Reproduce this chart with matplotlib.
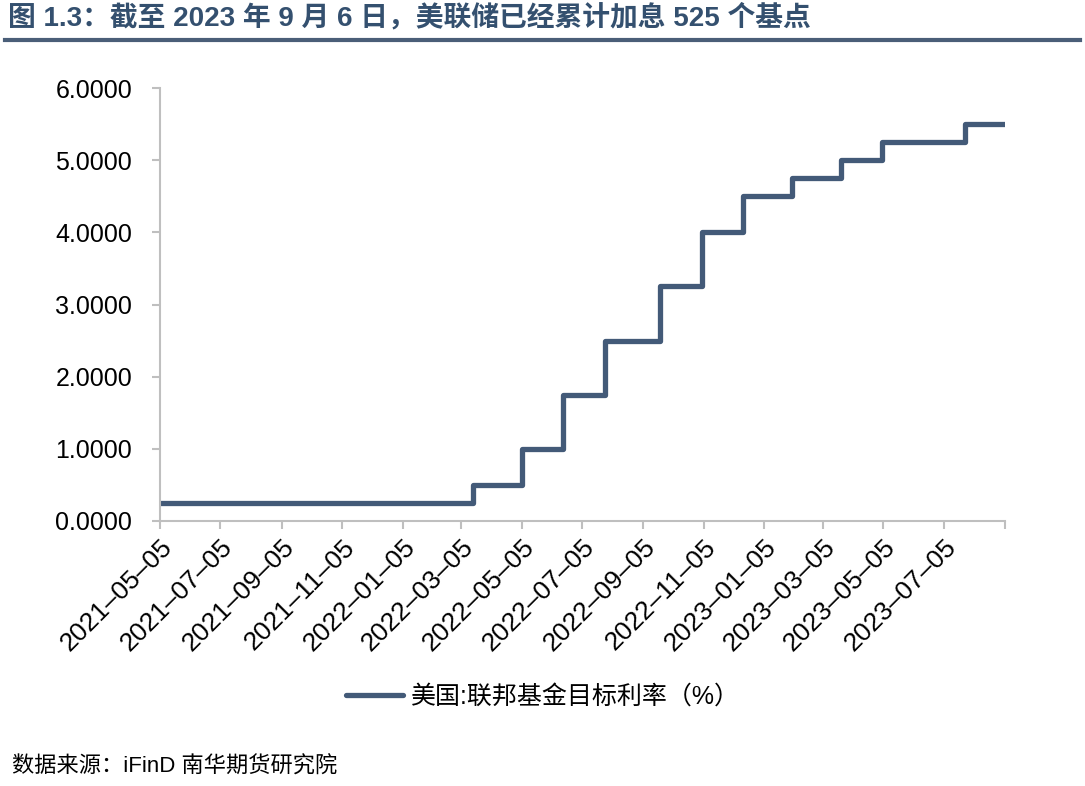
import matplotlib
matplotlib.use("Agg")
import matplotlib.pyplot as plt
from matplotlib.lines import Line2D
import pandas as pd

plt.rcParams['font.family'] = ['Liberation Sans', 'Noto Sans CJK SC', 'DejaVu Sans']

# 联邦基金目标利率上限 (%)，阶梯数据：变动日期与新利率
rate_dates = ['2021-05-05', '2022-03-17', '2022-05-05', '2022-06-16', '2022-07-28',
              '2022-09-22', '2022-11-03', '2022-12-15', '2023-02-02', '2023-03-23',
              '2023-05-04', '2023-07-27', '2023-09-06']
rate_values = [0.25, 0.50, 1.00, 1.75, 2.50, 3.25, 4.00, 4.50, 4.75, 5.00, 5.25, 5.50, 5.50]

tick_dates = ['2021-05-05', '2021-07-05', '2021-09-05', '2021-11-05', '2022-01-05',
              '2022-03-05', '2022-05-05', '2022-07-05', '2022-09-05', '2022-11-05',
              '2023-01-05', '2023-03-05', '2023-05-05', '2023-07-05', '2023-09-05']
tick_labels = [d.replace('-', '–') for d in tick_dates[:-1]] + ['']

y_ticks = [0, 1, 2, 3, 4, 5, 6]

title = '图 1.3：截至 2023 年 9 月 6 日，美联储已经累计加息 525 个基点'
series_name = '美国:联邦基金目标利率（%）'
source = '数据来源：iFinD 南华期货研究院'

line_color = '#435a78'
title_color = '#34506f'
axis_color = '#bfbfbf'

W, H = 1085, 786
fig = plt.figure(figsize=(W / 100, H / 100), dpi=100)
ax = fig.add_axes([160 / W, 1 - 521 / H, 845 / W, 433 / H])

x = pd.to_datetime(rate_dates)
ax.step(x, rate_values, where='post', color=line_color, lw=3.8,
        solid_joinstyle='round', solid_capstyle='round', label=series_name)

ax.set_xlim(pd.Timestamp(tick_dates[0]), pd.Timestamp(tick_dates[-1]))
ax.set_ylim(0, 6)
ax.set_yticks(y_ticks)
ax.set_yticklabels([f'{v:.4f}' for v in y_ticks], fontsize=18)
ax.set_xticks(pd.to_datetime(tick_dates))
ax.set_xticklabels(tick_labels, rotation=45, ha='right', rotation_mode='anchor', fontsize=19)

for s in ['top', 'right']:
    ax.spines[s].set_visible(False)
for s in ['left', 'bottom']:
    ax.spines[s].set_color(axis_color)
    ax.spines[s].set_linewidth(1.5)
ax.tick_params(axis='both', direction='out', length=6, width=1.5, color=axis_color,
               labelcolor='black')
ax.tick_params(axis='y', pad=14)
ax.tick_params(axis='x', pad=4)

fig.text(8 / W, 1 - 18 / H, title, fontsize=20, fontweight='bold', color=title_color,
         va='center', ha='left')
fig.add_artist(Line2D([5 / W, 1080 / W], [1 - 40 / H] * 2, color='#4a5e78', lw=3))

fig.legend(loc='center', bbox_to_anchor=(0.5, 1 - 697 / H), frameon=False,
           fontsize=18, handlelength=2.3, handletextpad=0.3)

fig.text(12 / W, 1 - 767 / H, source, fontsize=16, va='center', ha='left')

fig.savefig('out.png', dpi=100)
